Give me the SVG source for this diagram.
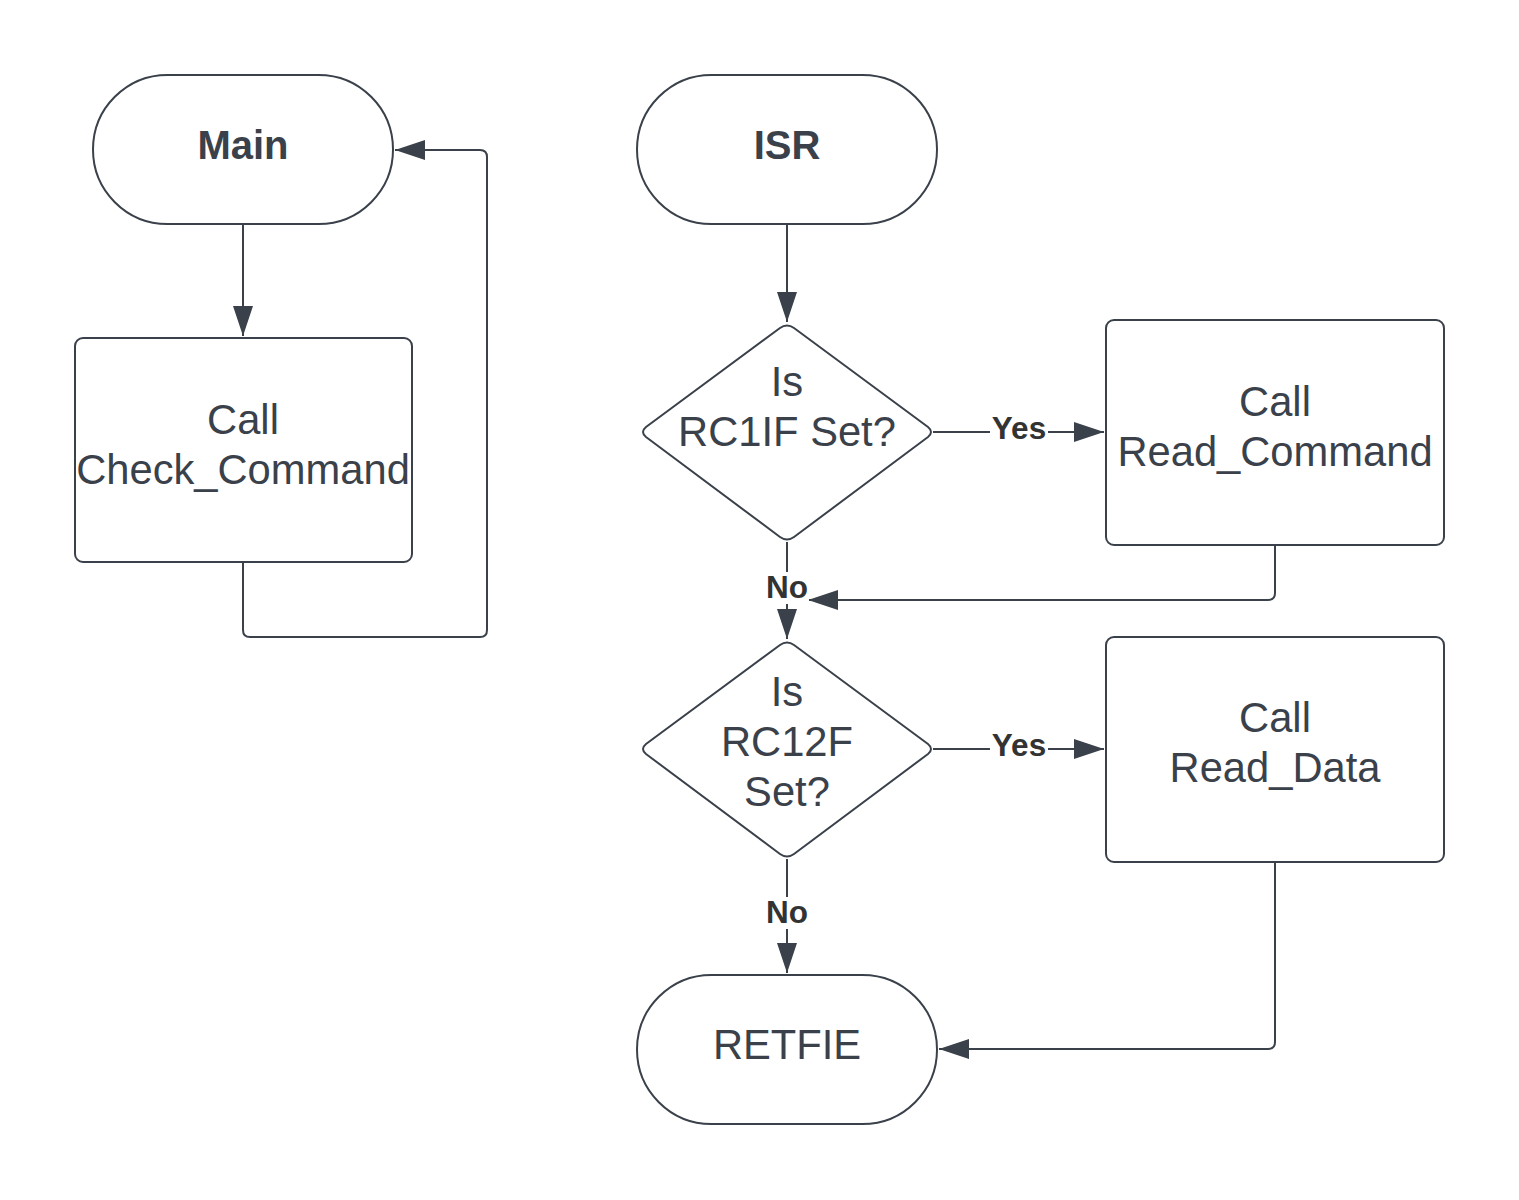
<svg xmlns="http://www.w3.org/2000/svg" width="1519" height="1200" viewBox="0 0 1519 1200">
<style>
.shape{fill:#ffffff;stroke:#3a414a;stroke-width:2;stroke-linejoin:round}
.conn{fill:none;stroke:#3a414a;stroke-width:2;stroke-linejoin:round}
.t{font-family:"Liberation Sans",Arial,sans-serif;font-size:41.7px;fill:#3a414a;text-anchor:middle}
.tb{font-family:"Liberation Sans",Arial,sans-serif;font-size:40px;font-weight:bold;fill:#3a414a;text-anchor:middle}
.lbl{font-family:"Liberation Sans",Arial,sans-serif;font-size:31.5px;font-weight:bold;fill:#333333;text-anchor:middle}
.lblbg{fill:#ffffff;stroke:none}
</style>
<defs>
<marker id="arr" viewBox="0 0 30 20" refX="30" refY="10" markerWidth="30" markerHeight="20" markerUnits="userSpaceOnUse" orient="auto">
<path d="M0,0 L30,10 L0,20 Z" fill="#3a414a"/>
</marker>
</defs>
<rect width="1519" height="1200" fill="#ffffff"/>
<g id="connectors">
<path class="conn" d="M243,225 L243,336" marker-end="url(#arr)"/>
<path class="conn" d="M243,563 L243,630 Q243,637 250,637 L480,637 Q487,637 487,630 L487,157 Q487,150 480,150 L395,150" marker-end="url(#arr)"/>
<path class="conn" d="M787,225 L787,322" marker-end="url(#arr)"/>
<path class="conn" d="M933,432 L1104,432" marker-end="url(#arr)"/>
<path class="conn" d="M787,542 L787,639" marker-end="url(#arr)"/>
<path class="conn" d="M1275,546 L1275,593 Q1275,600 1268,600 L808,600" marker-end="url(#arr)"/>
<path class="conn" d="M933,749 L1104,749" marker-end="url(#arr)"/>
<path class="conn" d="M787,859 L787,973" marker-end="url(#arr)"/>
<path class="conn" d="M1275,863 L1275,1042 Q1275,1049 1268,1049 L939,1049" marker-end="url(#arr)"/>
<rect class="lblbg" x="990" y="414" width="58" height="32"/>
<text class="lbl" x="1019" y="439">Yes</text>
<rect class="lblbg" x="765" y="572" width="44" height="32"/>
<text class="lbl" x="787" y="598">No</text>
<rect class="lblbg" x="990" y="731" width="58" height="32"/>
<text class="lbl" x="1019" y="756">Yes</text>
<rect class="lblbg" x="765" y="897" width="44" height="32"/>
<text class="lbl" x="787" y="923">No</text>
</g>
<g id="main">
<rect class="shape" x="93" y="75" width="300" height="149" rx="74.5" ry="74.5"/>
<text class="tb" x="243" y="159">Main</text>
</g>
<g id="check_command">
<rect class="shape" x="75" y="338" width="337" height="224" rx="8" ry="8"/>
<text class="t" x="243" y="434">Call</text>
<text class="t" x="243" y="484">Check_Command</text>
</g>
<g id="isr">
<rect class="shape" x="637" y="75" width="300" height="149" rx="74.5" ry="74.5"/>
<text class="tb" x="787" y="159">ISR</text>
</g>
<g id="decision1">
<path class="shape" d="M780,328 Q787,323 794,328 L928,427 Q934,432 928,437 L794,537 Q787,542 780,537 L646,437 Q640,432 646,427 Z"/>
<text class="t" x="787" y="396">Is</text>
<text class="t" x="787" y="446">RC1IF Set?</text>
</g>
<g id="read_command">
<rect class="shape" x="1106" y="320" width="338" height="225" rx="8" ry="8"/>
<text class="t" x="1275" y="416">Call</text>
<text class="t" x="1275" y="466">Read_Command</text>
</g>
<g id="decision2">
<path class="shape" d="M780,645 Q787,640 794,645 L928,744 Q934,749 928,754 L794,854 Q787,859 780,854 L646,754 Q640,749 646,744 Z"/>
<text class="t" x="787" y="706">Is</text>
<text class="t" x="787" y="756">RC12F</text>
<text class="t" x="787" y="806">Set?</text>
</g>
<g id="read_data">
<rect class="shape" x="1106" y="637" width="338" height="225" rx="8" ry="8"/>
<text class="t" x="1275" y="732">Call</text>
<text class="t" x="1275" y="782">Read_Data</text>
</g>
<g id="retfie">
<rect class="shape" x="637" y="975" width="300" height="149" rx="74.5" ry="74.5"/>
<text class="t" x="787" y="1059">RETFIE</text>
</g>
</svg>
